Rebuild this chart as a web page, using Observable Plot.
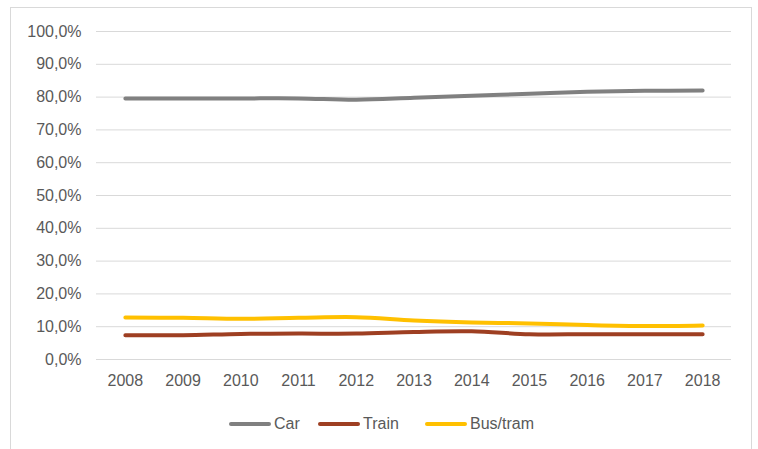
<!DOCTYPE html>
<html>
<head>
<meta charset="utf-8">
<script src="https://cdn.jsdelivr.net/npm/d3@7"></script>
<script src="https://cdn.jsdelivr.net/npm/@observablehq/plot@0.6"></script>
<style>
  html, body { margin: 0; padding: 0; background: #fff; }
  #wrap { position: relative; width: 758px; height: 449px; overflow: hidden; font-family: "Liberation Sans", Arial, sans-serif; }
  #frame { position: absolute; left: 10px; top: 7px; width: 742px; height: 445px; border: 1px solid #d9d9d9; box-sizing: border-box; }
  #chart { position: absolute; left: 0; top: 0; }
  #legend { position: absolute; left: 0; top: 413px; width: 758px; height: 22px; font-size: 16px; color: #595959; }
  .item { position: absolute; top: 0; display: flex; align-items: center; height: 22px; }
  .sw { width: 42px; height: 4px; border-radius: 2px; margin-right: 3px; }
</style>
</head>
<body>
<div id="wrap">
  <div id="frame"></div>
  <div id="chart"></div>
  <div id="legend"></div>
</div>
<script>
const years = ["2008","2009","2010","2011","2012","2013","2014","2015","2016","2017","2018"];
const car   = [79.6, 79.6, 79.6, 79.6, 79.2, 79.8, 80.4, 81.0, 81.6, 81.9, 82.0];
const train = [7.4, 7.4, 7.8, 7.9, 7.9, 8.4, 8.6, 7.7, 7.7, 7.7, 7.7];
const bus   = [12.8, 12.7, 12.4, 12.7, 12.9, 11.9, 11.3, 11.0, 10.5, 10.2, 10.4];
const seriesNames = ["Car", "Train", "Bus/tram"];
const seriesColors = ["#808080", "#9E3F22", "#FFC000"];
const yTicks = [0, 0.1, 0.2, 0.3, 0.4, 0.5, 0.6, 0.7, 0.8, 0.9, 1.0];

const seriesValues = [car, train, bus];
const rows = [];
seriesNames.forEach((name, s) => {
  years.forEach((yr, i) => rows.push({series: name, year: yr, value: seriesValues[s][i] / 100}));
});

const fmt = d => (d * 100).toFixed(1).replace(".", ",") + "%";

const chart = Plot.plot({
  width: 758,
  height: 400,
  marginLeft: 96,
  marginRight: 27,
  marginTop: 31,
  marginBottom: 41,
  style: { fontFamily: "Liberation Sans, Arial, sans-serif", fontSize: "16px", color: "#595959", background: "transparent" },
  x: { type: "point", domain: years, padding: 0.5, round: false, label: null },
  y: { domain: [0, 1], label: null },
  color: { domain: seriesNames, range: seriesColors },
  marks: [
    Plot.ruleY(yTicks, { stroke: "#d9d9d9", strokeWidth: 1 }),
    Plot.axisY(yTicks, { tickSize: 0, tickPadding: 15, tickFormat: fmt, fill: "#595959", label: null }),
    Plot.axisX({ tickSize: 0, tickPadding: 15, fill: "#595959", label: null }),
    Plot.line(rows, {
      x: "year", y: "value", z: "series", stroke: "series",
      strokeWidth: 4, curve: "catmull-rom", strokeLinecap: "round"
    })
  ]
});
document.getElementById("chart").appendChild(chart);

const legend = document.getElementById("legend");
const lefts = [229, 318, 425];
seriesNames.forEach((name, i) => {
  const it = document.createElement("div");
  it.className = "item";
  it.style.left = lefts[i] + "px";
  it.innerHTML = `<div class="sw" style="background:${seriesColors[i]}"></div><span>${name}</span>`;
  legend.appendChild(it);
});
</script>
</body>
</html>
